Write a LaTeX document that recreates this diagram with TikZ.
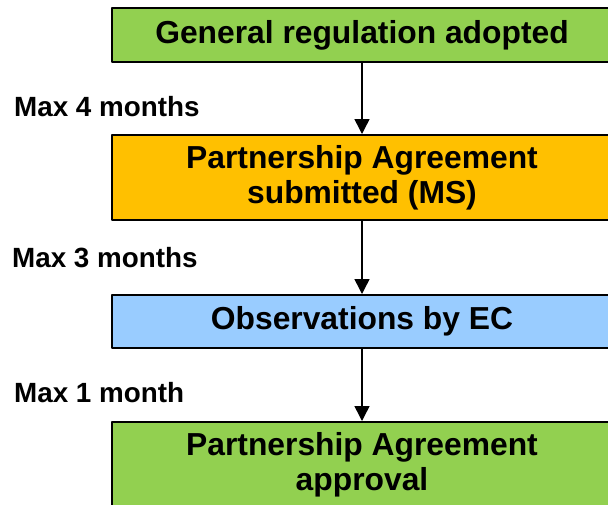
\documentclass[tikz,border=0pt]{standalone}
\usepackage{fontspec}
\setmainfont{Liberation Sans}
\usetikzlibrary{positioning,arrows.meta}
\definecolor{stagegreen}{HTML}{92D050}
\definecolor{stageorange}{HTML}{FFC000}
\definecolor{stageblue}{HTML}{99CCFF}
\tikzset{
  stagebox/.style={draw=black, line width=2pt, minimum width=500pt, align=center,
    inner sep=0pt, font=\fontsize{31.8}{35}\selectfont\bfseries},
  waitlabel/.style={anchor=base west, inner sep=0pt, font=\fontsize{27.8}{30}\selectfont\bfseries},
}
\begin{document}
\begin{tikzpicture}[x=1pt,y=-1pt,line join=round,>={Triangle[width=15pt,length=15pt]}]
            \path[use as bounding box, clip] (0,0) rectangle (608,504);
            \node[stagebox, fill=stagegreen, minimum height=54pt] (adopted) at (362,35) {General regulation adopted};
            \node[stagebox, fill=stageorange, minimum height=85pt] (submitted) at (362,177.5) {Partnership Agreement\\submitted (MS)};
            \node[stagebox, fill=stageblue, minimum height=53pt] (observations) at (362,321.5) {Observations by EC};
            \node[stagebox, fill=stagegreen, minimum height=85pt] (approval) at (362,464.5) {Partnership Agreement\\approval};
            \draw[->, line width=1.5pt] (adopted) -- (submitted);
            \draw[->, line width=1.5pt] (submitted) -- (observations);
            \draw[->, line width=1.5pt] (observations) -- (approval);
            \node[waitlabel] (wait1) at (14,116) {Max 4 months};
            \node[waitlabel] (wait2) at (12,267) {Max 3 months};
            \node[waitlabel] (wait3) at (14,402) {Max 1 month};
        \end{tikzpicture}
\end{document}
